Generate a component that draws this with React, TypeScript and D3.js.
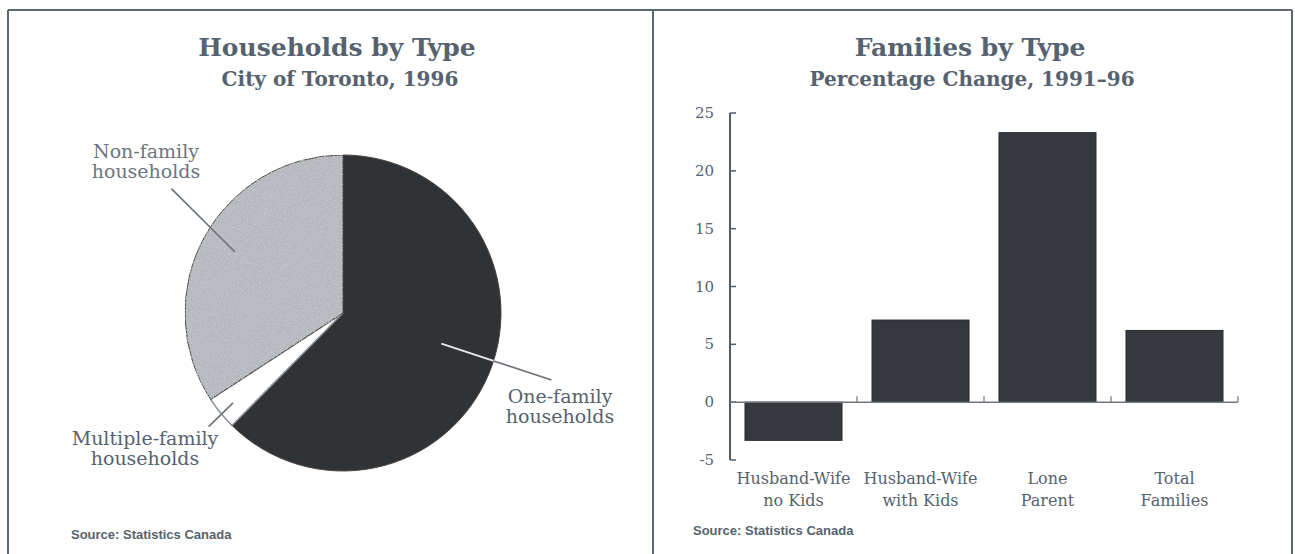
import React from "react";
import * as d3 from "d3";

// ---- Data ----
const pieCategories = ["One-family households", "Multiple-family households", "Non-family households"];
const pieValues = [62.4, 3.4, 34.2];

const barCategories = ["Husband-Wife no Kids", "Husband-Wife with Kids", "Lone Parent", "Total Families"];
const barLabelLines = [["Husband-Wife", "no Kids"], ["Husband-Wife", "with Kids"], ["Lone", "Parent"], ["Total", "Families"]];
const barValues = [-3.3, 7.1, 23.3, 6.2];
const yTicks = [-5, 0, 5, 10, 15, 20, 25];

const TEXT = "#56626f";
const SERIF = "'DejaVu Serif', 'Liberation Serif', serif";
const SANS = "'Liberation Sans', 'Noto Sans', sans-serif";

const W = 1295, H = 554;

export default function App() {
  // ---- Pie ----
  const cx = 343, cy = 313, R = 158;
  const pie = d3.pie<number>().sort(null).startAngle(0).endAngle(2 * Math.PI)(pieValues);
  const arc = d3.arc<d3.PieArcDatum<number>>().innerRadius(0).outerRadius(R);
  const fills = ["#303336", "#ffffff", "#b6b9bd"];
  const deg = Math.PI / 180;
  // leader lines: offsets (in degrees) from slice mid-angle at inner & outer end
  const leader = [
    { r0: 103, r1: 219, d0: -5, d1: -4.5 },
    { r0: 142, r1: 176, d0: 0, d1: -1 },
    { r0: 124, r1: 212, d0: 1, d1: 7.5 },
  ];
  const pt = (a: number, r: number) => [cx + r * Math.sin(a), cy - r * Math.cos(a)];
  const labelPos = [
    { x: 560, y: 403, c: TEXT },
    { x: 145, y: 445, c: TEXT },
    { x: 146, y: 158, c: "#6d7580" },
  ];
  const labelLines = [["One-family", "households"], ["Multiple-family", "households"], ["Non-family", "households"]];

  // ---- Bars ----
  const x0 = 730, x1 = 1238;
  const y = d3.scaleLinear().domain([-5, 25]).range([460, 113]);
  const x = d3.scaleBand<string>().domain(barCategories).range([x0, x1]).paddingInner(0.236).paddingOuter(0.118);
  const step = x.step();

  return (
    <svg width={W} height={H} style={{ position: "absolute", left: 0, top: 0, background: "#fff" }}>
      <defs>
        <filter id="speckle" x="0" y="0" width="100%" height="100%">
          <feTurbulence type="fractalNoise" baseFrequency="0.7" numOctaves="2" seed="3" result="n" />
          <feColorMatrix in="n" type="matrix" values="0 0 0 0 0.55  0 0 0 0 0.57  0 0 0 0 0.6  5 0 0 0 -2.6" result="dots" />
          <feComposite in="dots" in2="SourceGraphic" operator="in" result="dd" />
          <feMerge>
            <feMergeNode in="SourceGraphic" />
            <feMergeNode in="dd" />
          </feMerge>
        </filter>
      </defs>

      {/* frame */}
      <g stroke="#5d6875" strokeWidth={2} fill="none">
        <line x1={8} y1={10} x2={1292} y2={10} />
        <line x1={8} y1={10} x2={8} y2={554} />
        <line x1={653} y1={10} x2={653} y2={554} />
        <line x1={1292} y1={10} x2={1292} y2={554} />
      </g>

      {/* Left titles */}
      <text x={337} y={56} textAnchor="middle" fontFamily={SERIF} fontWeight="bold" fontSize={25} fill={TEXT}>Households by Type</text>
      <text x={340} y={86} textAnchor="middle" fontFamily={SERIF} fontWeight="bold" fontSize={20} fill={TEXT}>City of Toronto, 1996</text>

      {/* Pie */}
      <g transform={`translate(${cx},${cy})`}>
        {pie.map((d, i) => (
          <path key={i} d={arc(d) || ""} fill={fills[i]} stroke={i === 1 ? "#8a8d91" : "#4a4440"} strokeWidth={i === 1 ? 1.5 : 1}
            filter={i === 2 ? "url(#speckle)" : undefined} />
        ))}
      </g>
      {pie.map((d, i) => {
        const a = (d.startAngle + d.endAngle) / 2;
        const a0 = a + leader[i].d0 * deg;
        const a1 = a + leader[i].d1 * deg;
        const [ax, ay] = pt(a0, leader[i].r0);
        const [bx, by] = pt(a1, leader[i].r1);
        const t = (R - leader[i].r0) / (leader[i].r1 - leader[i].r0);
        const mx = ax + (bx - ax) * t, my = ay + (by - ay) * t;
        return (
          <g key={i}>
            {i === 0 ? (
              <>
                <line x1={ax} y1={ay} x2={mx} y2={my} stroke="#e8eaec" strokeWidth={2} />
                <line x1={mx} y1={my} x2={bx} y2={by} stroke="#6b7178" strokeWidth={1.6} />
              </>
            ) : (
              <line x1={ax} y1={ay} x2={bx} y2={by} stroke="#6b7178" strokeWidth={1.6} />
            )}
            <text x={labelPos[i].x} y={labelPos[i].y} textAnchor="middle" fontFamily={SERIF} fontSize={19} fill={labelPos[i].c}>
              <tspan x={labelPos[i].x} dy={0}>{labelLines[i][0]}</tspan>
              <tspan x={labelPos[i].x} dy={20}>{labelLines[i][1]}</tspan>
            </text>
          </g>
        );
      })}
      <text x={71} y={539} fontFamily={SANS} fontWeight="bold" fontSize={13} fill={TEXT}>Source: Statistics Canada</text>

      {/* Right titles */}
      <text x={970} y={56} textAnchor="middle" fontFamily={SERIF} fontWeight="bold" fontSize={25} fill={TEXT}>Families by Type</text>
      <text x={972} y={86} textAnchor="middle" fontFamily={SERIF} fontWeight="bold" fontSize={20} fill={TEXT}>Percentage Change, 1991–96</text>

      {/* y axis */}
      <line x1={x0} y1={y(25)} x2={x0} y2={y(-5)} stroke="#4f5e6b" strokeWidth={2} />
      {yTicks.map((t) => (
        <g key={t}>
          <line x1={x0} y1={y(t)} x2={x0 + 6} y2={y(t)} stroke="#4f5e6b" strokeWidth={1.5} />
          <text x={714} y={y(t) + 5} textAnchor="end" fontFamily={SERIF} fontSize={15} fill={TEXT}>{t}</text>
        </g>
      ))}

      {/* bars */}
      {barValues.map((v, i) => {
        const c = barCategories[i];
        const top = y(Math.max(0, v));
        const h = Math.abs(y(v) - y(0));
        return <rect key={c} x={x(c)} y={top} width={x.bandwidth()} height={h} fill="#35383c" stroke="#2a2c2f" strokeWidth={1} />;
      })}

      {/* zero baseline */}
      <line x1={x0} y1={y(0)} x2={x1} y2={y(0)} stroke="#6f767d" strokeWidth={1.5} />
      {barCategories.map((c) => {
        const bx = (x(c) as number) - (step - x.bandwidth()) / 2 + step;
        return <line key={c} x1={bx} y1={y(0)} x2={bx} y2={y(0) - 6} stroke="#6f767d" strokeWidth={1.2} />;
      })}

      {/* x labels */}
      {barCategories.map((c, i) => {
        const cxp = (x(c) as number) + x.bandwidth() / 2;
        return (
          <text key={c} x={cxp} y={484} textAnchor="middle" fontFamily={SERIF} fontSize={16} fill={TEXT}>
            <tspan x={cxp} dy={0}>{barLabelLines[i][0]}</tspan>
            <tspan x={cxp} dy={22}>{barLabelLines[i][1]}</tspan>
          </text>
        );
      })}
      <text x={693} y={535} fontFamily={SANS} fontWeight="bold" fontSize={13} fill={TEXT}>Source: Statistics Canada</text>
    </svg>
  );
}
